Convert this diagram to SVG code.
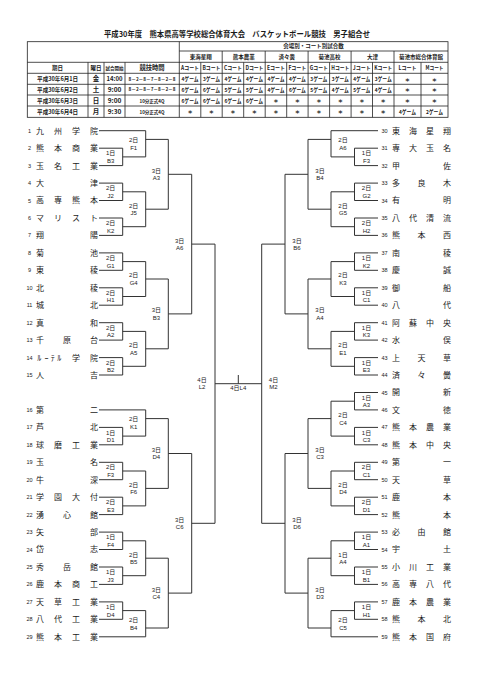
<svg xmlns="http://www.w3.org/2000/svg" width="481" height="680" viewBox="0 0 481 680">
<style>
text{fill:#1a1a1a;font-family:"Noto Sans CJK JP","Liberation Sans",sans-serif}
.ti{font-size:7.6px;font-weight:700}
.tb{font-size:5.5px;font-weight:700;text-anchor:middle}
.tt{font-size:6.5px;font-weight:700;text-anchor:middle;font-family:"Liberation Sans","Noto Sans CJK JP",sans-serif}
.nm{font-size:8px;text-anchor:middle}
.no{font-size:5.5px;text-anchor:middle;font-family:"Liberation Sans",sans-serif}
.lb text{font-size:6px;text-anchor:middle;font-family:"Liberation Sans","Noto Sans CJK JP",sans-serif}
.tl{fill:none;stroke:#222;stroke-width:0.8}
.ln{fill:none;stroke:#333;stroke-width:1}
</style>
<rect width="481" height="680" fill="#fff"/>
<g id="title">
<text class="ti" x="104" y="36.5" textLength="266" lengthAdjust="spacingAndGlyphs">平成30年度　熊本県高等学校総合体育大会　バスケットボール競技　男子組合せ</text>
</g>
<g id="table">
<rect class="tl" x="27.3" y="41.7" width="420.7" height="75.6" stroke-width="1.1"/>
<path class="tl" d="M179.3 51H448M27.3 62.3H448M27.3 73.3H448M27.3 84.3H448M27.3 95H448M27.3 106H448M179.3 41.7V117.3M88 62.3V117.3M104 62.3V117.3M125 62.3V117.3M222.2 51V117.3M265.2 51V117.3M308.1 51V117.3M351.1 51V117.3M394 51V117.3M200.8 62.3V117.3M243.7 62.3V117.3M286.7 62.3V117.3M329.6 62.3V117.3M372.5 62.3V117.3M421 62.3V117.3"/>
<g class="tb">
<text x="313.6" y="48.4">会場別・コート別試合数</text>
<text x="200.8" y="58.8">東海星翔</text>
<text x="243.7" y="58.8">熊本農業</text>
<text x="286.7" y="58.8">済々黌</text>
<text x="329.6" y="58.8">菊池高校</text>
<text x="372.5" y="58.8">大津</text>
<text x="421" y="58.8">菊池市総合体育館</text>
<text x="57.6" y="70">期日</text>
<text x="96" y="70">曜日</text>
<text x="114.5" y="69.6" style="font-size:4.5px">試合開始</text>
<text x="152" y="70.2" style="font-size:6.3px">競技時間</text>
<text x="190.05" y="70" textLength="18" lengthAdjust="spacingAndGlyphs">Aコート</text>
<text x="211.5" y="70" textLength="18" lengthAdjust="spacingAndGlyphs">Bコート</text>
<text x="232.95" y="70" textLength="18" lengthAdjust="spacingAndGlyphs">Cコート</text>
<text x="254.45" y="70" textLength="18" lengthAdjust="spacingAndGlyphs">Dコート</text>
<text x="275.95" y="70" textLength="18" lengthAdjust="spacingAndGlyphs">Eコート</text>
<text x="297.4" y="70" textLength="18" lengthAdjust="spacingAndGlyphs">Fコート</text>
<text x="318.85" y="70" textLength="18" lengthAdjust="spacingAndGlyphs">Gコート</text>
<text x="340.35" y="70" textLength="18" lengthAdjust="spacingAndGlyphs">Hコート</text>
<text x="361.8" y="70" textLength="18" lengthAdjust="spacingAndGlyphs">Jコート</text>
<text x="383.25" y="70" textLength="18" lengthAdjust="spacingAndGlyphs">Kコート</text>
<text x="407.5" y="70" textLength="18" lengthAdjust="spacingAndGlyphs">Lコート</text>
<text x="434.5" y="70" textLength="18" lengthAdjust="spacingAndGlyphs">Mコート</text>
<text x="57.6" y="81" textLength="41" lengthAdjust="spacingAndGlyphs">平成30年6月1日</text>
<text x="57.6" y="91.9" textLength="41" lengthAdjust="spacingAndGlyphs">平成30年6月2日</text>
<text x="57.6" y="102.7" textLength="41" lengthAdjust="spacingAndGlyphs">平成30年6月3日</text>
<text x="57.6" y="113.9" textLength="41" lengthAdjust="spacingAndGlyphs">平成30年6月4日</text>
<text x="96" y="81.2" style="font-size:6.5px">金</text>
<text x="96" y="92.1" style="font-size:6.5px">土</text>
<text x="96" y="102.9" style="font-size:6.5px">日</text>
<text x="96" y="114.1" style="font-size:6.5px">月</text>
<text x="152" y="80.5" style="font-size:4.5px" textLength="47" lengthAdjust="spacingAndGlyphs">8－2－8－7－8－2－8</text>
<text x="152" y="91.4" style="font-size:4.5px" textLength="47" lengthAdjust="spacingAndGlyphs">8－2－8－7－8－2－8</text>
<text x="152" y="102.6" style="font-size:5px" textLength="25" lengthAdjust="spacingAndGlyphs">10分正式4Q</text>
<text x="152" y="113.8" style="font-size:5px" textLength="25" lengthAdjust="spacingAndGlyphs">10分正式4Q</text>
</g>
<g class="tt">
<text x="114.5" y="81.3" textLength="16" lengthAdjust="spacingAndGlyphs">14:00</text>
<text x="114.5" y="92.2">9:00</text>
<text x="114.5" y="103">9:00</text>
<text x="114.5" y="114.2">9:30</text>
</g>
<g class="tb" style="font-size:5.3px">
<text x="190.05" y="81" textLength="17" lengthAdjust="spacingAndGlyphs">4ゲーム</text>
<text x="211.5" y="81" textLength="17" lengthAdjust="spacingAndGlyphs">3ゲーム</text>
<text x="232.95" y="81" textLength="17" lengthAdjust="spacingAndGlyphs">4ゲーム</text>
<text x="254.45" y="81" textLength="17" lengthAdjust="spacingAndGlyphs">4ゲーム</text>
<text x="275.95" y="81" textLength="17" lengthAdjust="spacingAndGlyphs">4ゲーム</text>
<text x="297.4" y="81" textLength="17" lengthAdjust="spacingAndGlyphs">4ゲーム</text>
<text x="318.85" y="81" textLength="17" lengthAdjust="spacingAndGlyphs">3ゲーム</text>
<text x="340.35" y="81" textLength="17" lengthAdjust="spacingAndGlyphs">3ゲーム</text>
<text x="361.8" y="81" textLength="17" lengthAdjust="spacingAndGlyphs">4ゲーム</text>
<text x="383.25" y="81" textLength="17" lengthAdjust="spacingAndGlyphs">3ゲーム</text>
<text x="407.5" y="81.5">＊</text>
<text x="434.5" y="81.5">＊</text>
<text x="190.05" y="91.9" textLength="17" lengthAdjust="spacingAndGlyphs">6ゲーム</text>
<text x="211.5" y="91.9" textLength="17" lengthAdjust="spacingAndGlyphs">6ゲーム</text>
<text x="232.95" y="91.9" textLength="17" lengthAdjust="spacingAndGlyphs">5ゲーム</text>
<text x="254.45" y="91.9" textLength="17" lengthAdjust="spacingAndGlyphs">5ゲーム</text>
<text x="275.95" y="91.9" textLength="17" lengthAdjust="spacingAndGlyphs">4ゲーム</text>
<text x="297.4" y="91.9" textLength="17" lengthAdjust="spacingAndGlyphs">6ゲーム</text>
<text x="318.85" y="91.9" textLength="17" lengthAdjust="spacingAndGlyphs">5ゲーム</text>
<text x="340.35" y="91.9" textLength="17" lengthAdjust="spacingAndGlyphs">4ゲーム</text>
<text x="361.8" y="91.9" textLength="17" lengthAdjust="spacingAndGlyphs">5ゲーム</text>
<text x="383.25" y="91.9" textLength="17" lengthAdjust="spacingAndGlyphs">4ゲーム</text>
<text x="407.5" y="92.4">＊</text>
<text x="434.5" y="92.4">＊</text>
<text x="190.05" y="102.7" textLength="17" lengthAdjust="spacingAndGlyphs">6ゲーム</text>
<text x="211.5" y="102.7" textLength="17" lengthAdjust="spacingAndGlyphs">6ゲーム</text>
<text x="232.95" y="102.7" textLength="17" lengthAdjust="spacingAndGlyphs">6ゲーム</text>
<text x="254.45" y="102.7" textLength="17" lengthAdjust="spacingAndGlyphs">6ゲーム</text>
<text x="275.95" y="103.2">＊</text>
<text x="297.4" y="103.2">＊</text>
<text x="318.85" y="103.2">＊</text>
<text x="340.35" y="103.2">＊</text>
<text x="361.8" y="103.2">＊</text>
<text x="383.25" y="103.2">＊</text>
<text x="407.5" y="103.2">＊</text>
<text x="434.5" y="103.2">＊</text>
<text x="190.05" y="114.4">＊</text>
<text x="211.5" y="114.4">＊</text>
<text x="232.95" y="114.4">＊</text>
<text x="254.45" y="114.4">＊</text>
<text x="275.95" y="114.4">＊</text>
<text x="297.4" y="114.4">＊</text>
<text x="318.85" y="114.4">＊</text>
<text x="340.35" y="114.4">＊</text>
<text x="361.8" y="114.4">＊</text>
<text x="383.25" y="114.4">＊</text>
<text x="407.5" y="113.9" textLength="17" lengthAdjust="spacingAndGlyphs">4ゲーム</text>
<text x="434.5" y="113.9" textLength="17" lengthAdjust="spacingAndGlyphs">2ゲーム</text>
</g>
</g>
<g id="connectors" class="ln">
<path d="M99 130.7H145.7M99 148.2H122.7V165.6H99M122.7 156.9H145.7M145.7 130.7V156.9M145.7 139.4H168.3M99 183.1H122.7V200.5H99M122.7 191.8H145.7M99 218H122.7V235.4H99M122.7 226.7H145.7M145.7 191.8V226.7M145.7 209.2H168.3M168.3 139.4V209.2M168.3 174.3H191.7"/>
<path d="M99 252.9H122.7V270.3H99M122.7 261.6H145.7M99 287.8H122.7V305.2H99M122.7 296.5H145.7M145.7 261.6V296.5M145.7 279H168.3M99 322.7H122.7V340.1H99M122.7 331.4H145.7M99 357.6H122.7V375H99M122.7 366.3H145.7M145.7 331.4V366.3M145.7 348.8H168.3M168.3 279V348.8M168.3 313.9H191.7M191.7 174.3V313.9M191.7 244.1H215"/>
<path d="M99 409.9H145.7M99 427.4H122.7V444.8H99M122.7 436.1H145.7M145.7 409.9V436.1M145.7 418.6H168.3M99 462.3H122.7V479.7H99M122.7 471H145.7M99 497.2H122.7V514.6H99M122.7 505.9H145.7M145.7 471V505.9M145.7 488.4H168.3M168.3 418.6V488.4M168.3 453.5H191.7"/>
<path d="M99 532.1H122.7V549.5H99M122.7 540.8H145.7M99 567H122.7V584.4H99M122.7 575.7H145.7M145.7 540.8V575.7M145.7 558.2H168.3M99 601.9H122.7V619.3H99M122.7 610.6H145.7M99 636.8H145.7M145.7 610.6V636.8M145.7 628H168.3M168.3 558.2V628M168.3 593.1H191.7M191.7 453.5V593.1M191.7 523.3H215"/>
<path d="M215 244.1V523.3M215 383.7H261.7M238.3 375V383.7M261.7 244.1V523.3"/>
<path d="M378 130.7H331M378 148.2H354.5V165.6H378M354.5 156.9H331M331 130.7V156.9M331 139.4H308M378 183.1H354.5V200.5H378M354.5 191.8H331M378 218H354.5V235.4H378M354.5 226.7H331M331 191.8V226.7M331 209.2H308M308 139.4V209.2M308 174.3H285"/>
<path d="M378 252.9H354.5V270.3H378M354.5 261.6H331M378 287.8H354.5V305.2H378M354.5 296.5H331M331 261.6V296.5M331 279H308M378 322.7H354.5V340.1H378M354.5 331.4H331M378 357.6H354.5V375H378M354.5 366.3H331M331 331.4V366.3M331 348.8H308M308 279V348.8M308 313.9H285M285 174.3V313.9M285 244.1H261.7"/>
<path d="M378 392.5H354.5V409.9H378M354.5 401.2H331M378 427.4H354.5V444.8H378M354.5 436.1H331M331 401.2V436.1M331 418.6H308M378 462.3H354.5V479.7H378M354.5 471H331M378 497.2H354.5V514.6H378M354.5 505.9H331M331 471V505.9M331 488.4H308M308 418.6V488.4M308 453.5H285"/>
<path d="M378 532.1H354.5V549.5H378M354.5 540.8H331M378 567H354.5V584.4H378M354.5 575.7H331M331 540.8V575.7M331 558.2H308M378 601.9H354.5V619.3H378M354.5 610.6H331M378 636.8H331M331 610.6V636.8M331 628H308M308 558.2V628M308 593.1H285M285 453.5V593.1M285 523.3H261.7"/>
</g>
<g id="teams-left">
<g id="team-1"><text class="no" x="29.5" y="132.7">1</text><text class="nm" x="40 58 76 94" y="133.6">九州学院</text></g>
<g id="team-2"><text class="no" x="29.5" y="150.2">2</text><text class="nm" x="40 58 76 94" y="151.1">熊本商業</text></g>
<g id="team-3"><text class="no" x="29.5" y="167.6">3</text><text class="nm" x="40 58 76 94" y="168.5">玉名工業</text></g>
<g id="team-4"><text class="no" x="29.5" y="185.1">4</text><text class="nm" x="40 94" y="186">大津</text></g>
<g id="team-5"><text class="no" x="29.5" y="202.5">5</text><text class="nm" x="40 58 76 94" y="203.4">高専熊本</text></g>
<g id="team-6"><text class="no" x="29.5" y="220">6</text><text class="nm" x="40 58 76 94" y="220.9">マリスト</text></g>
<g id="team-7"><text class="no" x="29.5" y="237.4">7</text><text class="nm" x="40 94" y="238.3">翔陽</text></g>
<g id="team-8"><text class="no" x="29.5" y="254.9">8</text><text class="nm" x="40 94" y="255.8">菊池</text></g>
<g id="team-9"><text class="no" x="29.5" y="272.3">9</text><text class="nm" x="40 94" y="273.2">東稜</text></g>
<g id="team-10"><text class="no" x="29.5" y="289.8">10</text><text class="nm" x="40 94" y="290.7">北稜</text></g>
<g id="team-11"><text class="no" x="29.5" y="307.2">11</text><text class="nm" x="40 94" y="308.1">城北</text></g>
<g id="team-12"><text class="no" x="29.5" y="324.7">12</text><text class="nm" x="40 94" y="325.6">真和</text></g>
<g id="team-13"><text class="no" x="29.5" y="342.1">13</text><text class="nm" x="40 67 94" y="343">千原台</text></g>
<g id="team-14"><text class="no" x="29.5" y="359.6">14</text><text class="nm" x="39.3 46.5 52.7 59.3 76 94" y="360.5">ﾙｰﾃﾙ学院</text></g>
<g id="team-15"><text class="no" x="29.5" y="377">15</text><text class="nm" x="40 94" y="377.9">人吉</text></g>
<g id="team-16"><text class="no" x="29.5" y="411.9">16</text><text class="nm" x="40 94" y="412.8">第二</text></g>
<g id="team-17"><text class="no" x="29.5" y="429.4">17</text><text class="nm" x="40 94" y="430.3">芦北</text></g>
<g id="team-18"><text class="no" x="29.5" y="446.8">18</text><text class="nm" x="40 58 76 94" y="447.7">球磨工業</text></g>
<g id="team-19"><text class="no" x="29.5" y="464.3">19</text><text class="nm" x="40 94" y="465.2">玉名</text></g>
<g id="team-20"><text class="no" x="29.5" y="481.7">20</text><text class="nm" x="40 94" y="482.6">牛深</text></g>
<g id="team-21"><text class="no" x="29.5" y="499.2">21</text><text class="nm" x="40 58 76 94" y="500.1">学園大付</text></g>
<g id="team-22"><text class="no" x="29.5" y="516.6">22</text><text class="nm" x="40 67 94" y="517.5">湧心館</text></g>
<g id="team-23"><text class="no" x="29.5" y="534.1">23</text><text class="nm" x="40 94" y="535">矢部</text></g>
<g id="team-24"><text class="no" x="29.5" y="551.5">24</text><text class="nm" x="40 94" y="552.4">岱志</text></g>
<g id="team-25"><text class="no" x="29.5" y="569">25</text><text class="nm" x="40 67 94" y="569.9">秀岳館</text></g>
<g id="team-26"><text class="no" x="29.5" y="586.4">26</text><text class="nm" x="40 58 76 94" y="587.3">鹿本商工</text></g>
<g id="team-27"><text class="no" x="29.5" y="603.9">27</text><text class="nm" x="40 58 76 94" y="604.8">天草工業</text></g>
<g id="team-28"><text class="no" x="29.5" y="621.3">28</text><text class="nm" x="40 58 76 94" y="622.2">八代工業</text></g>
<g id="team-29"><text class="no" x="29.5" y="638.8">29</text><text class="nm" x="40 58 76 94" y="639.7">熊本工業</text></g>
</g>
<g id="teams-right">
<g id="team-30"><text class="no" x="384.5" y="132.7">30</text><text class="nm" x="396 413 430 447" y="133.6">東海星翔</text></g>
<g id="team-31"><text class="no" x="384.5" y="150.2">31</text><text class="nm" x="396 413 430 447" y="151.1">専大玉名</text></g>
<g id="team-32"><text class="no" x="384.5" y="167.6">32</text><text class="nm" x="396 447" y="168.5">甲佐</text></g>
<g id="team-33"><text class="no" x="384.5" y="185.1">33</text><text class="nm" x="396 421.5 447" y="186">多良木</text></g>
<g id="team-34"><text class="no" x="384.5" y="202.5">34</text><text class="nm" x="396 447" y="203.4">有明</text></g>
<g id="team-35"><text class="no" x="384.5" y="220">35</text><text class="nm" x="396 413 430 447" y="220.9">八代清流</text></g>
<g id="team-36"><text class="no" x="384.5" y="237.4">36</text><text class="nm" x="396 421.5 447" y="238.3">熊本西</text></g>
<g id="team-37"><text class="no" x="384.5" y="254.9">37</text><text class="nm" x="396 447" y="255.8">南稜</text></g>
<g id="team-38"><text class="no" x="384.5" y="272.3">38</text><text class="nm" x="396 447" y="273.2">慶誠</text></g>
<g id="team-39"><text class="no" x="384.5" y="289.8">39</text><text class="nm" x="396 447" y="290.7">御船</text></g>
<g id="team-40"><text class="no" x="384.5" y="307.2">40</text><text class="nm" x="396 447" y="308.1">八代</text></g>
<g id="team-41"><text class="no" x="384.5" y="324.7">41</text><text class="nm" x="396 413 430 447" y="325.6">阿蘇中央</text></g>
<g id="team-42"><text class="no" x="384.5" y="342.1">42</text><text class="nm" x="396 447" y="343">水俣</text></g>
<g id="team-43"><text class="no" x="384.5" y="359.6">43</text><text class="nm" x="396 421.5 447" y="360.5">上天草</text></g>
<g id="team-44"><text class="no" x="384.5" y="377">44</text><text class="nm" x="396 421.5 447" y="377.9">済々黌</text></g>
<g id="team-45"><text class="no" x="384.5" y="394.5">45</text><text class="nm" x="396 447" y="395.4">開新</text></g>
<g id="team-46"><text class="no" x="384.5" y="411.9">46</text><text class="nm" x="396 447" y="412.8">文徳</text></g>
<g id="team-47"><text class="no" x="384.5" y="429.4">47</text><text class="nm" x="396 413 430 447" y="430.3">熊本農業</text></g>
<g id="team-48"><text class="no" x="384.5" y="446.8">48</text><text class="nm" x="396 413 430 447" y="447.7">熊本中央</text></g>
<g id="team-49"><text class="no" x="384.5" y="464.3">49</text><text class="nm" x="396 447" y="465.2">第一</text></g>
<g id="team-50"><text class="no" x="384.5" y="481.7">50</text><text class="nm" x="396 447" y="482.6">天草</text></g>
<g id="team-51"><text class="no" x="384.5" y="499.2">51</text><text class="nm" x="396 447" y="500.1">鹿本</text></g>
<g id="team-52"><text class="no" x="384.5" y="516.6">52</text><text class="nm" x="396 447" y="517.5">熊本</text></g>
<g id="team-53"><text class="no" x="384.5" y="534.1">53</text><text class="nm" x="396 421.5 447" y="535">必由館</text></g>
<g id="team-54"><text class="no" x="384.5" y="551.5">54</text><text class="nm" x="396 447" y="552.4">宇土</text></g>
<g id="team-55"><text class="no" x="384.5" y="569">55</text><text class="nm" x="396 413 430 447" y="569.9">小川工業</text></g>
<g id="team-56"><text class="no" x="384.5" y="586.4">56</text><text class="nm" x="396 413 430 447" y="587.3">高専八代</text></g>
<g id="team-57"><text class="no" x="384.5" y="603.9">57</text><text class="nm" x="396 413 430 447" y="604.8">鹿本農業</text></g>
<g id="team-58"><text class="no" x="384.5" y="621.3">58</text><text class="nm" x="396 421.5 447" y="622.2">熊本北</text></g>
<g id="team-59"><text class="no" x="384.5" y="638.8">59</text><text class="nm" x="396 413 430 447" y="639.7">熊本国府</text></g>
</g>
<g id="matches-left" class="lb">
<g id="mL-B3"><text x="110.7" y="155.3">1日</text><text x="110.7" y="162.8">B3</text></g>
<g id="mL-F1"><text x="133.7" y="142.2">2日</text><text x="133.7" y="149.7">F1</text></g>
<g id="mL-J2"><text x="110.7" y="190.2">2日</text><text x="110.7" y="197.7">J2</text></g>
<g id="mL-K2"><text x="110.7" y="225.1">2日</text><text x="110.7" y="232.6">K2</text></g>
<g id="mL-J5"><text x="133.7" y="207.6">2日</text><text x="133.7" y="215.1">J5</text></g>
<g id="mL-A3"><text x="156.3" y="172.7">3日</text><text x="156.3" y="180.2">A3</text></g>
<g id="mL-G1"><text x="110.7" y="260">2日</text><text x="110.7" y="267.5">G1</text></g>
<g id="mL-H1"><text x="110.7" y="294.9">2日</text><text x="110.7" y="302.4">H1</text></g>
<g id="mL-G4"><text x="133.7" y="277.4">2日</text><text x="133.7" y="284.9">G4</text></g>
<g id="mL-A2"><text x="110.7" y="329.8">2日</text><text x="110.7" y="337.3">A2</text></g>
<g id="mL-B2"><text x="110.7" y="364.7">2日</text><text x="110.7" y="372.2">B2</text></g>
<g id="mL-A5"><text x="133.7" y="347.2">2日</text><text x="133.7" y="354.7">A5</text></g>
<g id="mL-B3b"><text x="156.3" y="312.3">3日</text><text x="156.3" y="319.8">B3</text></g>
<g id="mL-A6"><text x="179.7" y="242.5">3日</text><text x="179.7" y="250">A6</text></g>
<g id="mL-D1"><text x="110.7" y="434.5">1日</text><text x="110.7" y="442">D1</text></g>
<g id="mL-K1"><text x="133.7" y="421.4">2日</text><text x="133.7" y="428.9">K1</text></g>
<g id="mL-F3"><text x="110.7" y="469.4">2日</text><text x="110.7" y="476.9">F3</text></g>
<g id="mL-E3"><text x="110.7" y="504.3">2日</text><text x="110.7" y="511.8">E3</text></g>
<g id="mL-F6"><text x="133.7" y="486.8">2日</text><text x="133.7" y="494.3">F6</text></g>
<g id="mL-D4"><text x="156.3" y="451.9">3日</text><text x="156.3" y="459.4">D4</text></g>
<g id="mL-F4"><text x="110.7" y="539.2">1日</text><text x="110.7" y="546.7">F4</text></g>
<g id="mL-J3"><text x="110.7" y="574.1">1日</text><text x="110.7" y="581.6">J3</text></g>
<g id="mL-B5"><text x="133.7" y="556.6">2日</text><text x="133.7" y="564.1">B5</text></g>
<g id="mL-D4b"><text x="110.7" y="609">1日</text><text x="110.7" y="616.5">D4</text></g>
<g id="mL-B4"><text x="133.7" y="622.1">2日</text><text x="133.7" y="629.6">B4</text></g>
<g id="mL-C4"><text x="156.3" y="591.5">3日</text><text x="156.3" y="599">C4</text></g>
<g id="mL-C6"><text x="179.7" y="521.7">3日</text><text x="179.7" y="529.2">C6</text></g>
<g id="mL-L2"><text x="202" y="381.6">4日</text><text x="202" y="389.3">L2</text></g>
<g id="m-L4"><text x="238.3" y="390.4">4日L4</text></g>
</g>
<g id="matches-right" class="lb">
<g id="mR-F3"><text x="366.5" y="155.3">1日</text><text x="366.5" y="162.8">F3</text></g>
<g id="mR-A6"><text x="343" y="142.2">2日</text><text x="343" y="149.7">A6</text></g>
<g id="mR-G2"><text x="366.5" y="190.2">2日</text><text x="366.5" y="197.7">G2</text></g>
<g id="mR-H2"><text x="366.5" y="225.1">2日</text><text x="366.5" y="232.6">H2</text></g>
<g id="mR-G5"><text x="343" y="207.6">2日</text><text x="343" y="215.1">G5</text></g>
<g id="mR-B4"><text x="320" y="172.7">3日</text><text x="320" y="180.2">B4</text></g>
<g id="mR-K2"><text x="366.5" y="260">1日</text><text x="366.5" y="267.5">K2</text></g>
<g id="mR-C1"><text x="366.5" y="294.9">1日</text><text x="366.5" y="302.4">C1</text></g>
<g id="mR-K3"><text x="343" y="277.4">2日</text><text x="343" y="284.9">K3</text></g>
<g id="mR-K3b"><text x="366.5" y="329.8">1日</text><text x="366.5" y="337.3">K3</text></g>
<g id="mR-E3"><text x="366.5" y="364.7">1日</text><text x="366.5" y="372.2">E3</text></g>
<g id="mR-E1"><text x="343" y="347.2">2日</text><text x="343" y="354.7">E1</text></g>
<g id="mR-A4"><text x="320" y="312.3">3日</text><text x="320" y="319.8">A4</text></g>
<g id="mR-B6"><text x="297" y="242.5">3日</text><text x="297" y="250">B6</text></g>
<g id="mR-A3"><text x="366.5" y="399.6">1日</text><text x="366.5" y="407.1">A3</text></g>
<g id="mR-C3"><text x="366.5" y="434.5">1日</text><text x="366.5" y="442">C3</text></g>
<g id="mR-C4"><text x="343" y="417">2日</text><text x="343" y="424.5">C4</text></g>
<g id="mR-C1b"><text x="366.5" y="469.4">2日</text><text x="366.5" y="476.9">C1</text></g>
<g id="mR-D1"><text x="366.5" y="504.3">2日</text><text x="366.5" y="511.8">D1</text></g>
<g id="mR-D4"><text x="343" y="486.8">2日</text><text x="343" y="494.3">D4</text></g>
<g id="mR-C3b"><text x="320" y="451.9">3日</text><text x="320" y="459.4">C3</text></g>
<g id="mR-A1"><text x="366.5" y="539.2">1日</text><text x="366.5" y="546.7">A1</text></g>
<g id="mR-B1"><text x="366.5" y="574.1">1日</text><text x="366.5" y="581.6">B1</text></g>
<g id="mR-A4b"><text x="343" y="556.6">1日</text><text x="343" y="564.1">A4</text></g>
<g id="mR-H1"><text x="366.5" y="609">1日</text><text x="366.5" y="616.5">H1</text></g>
<g id="mR-C5"><text x="343" y="622.1">2日</text><text x="343" y="629.6">C5</text></g>
<g id="mR-D3"><text x="320" y="591.5">3日</text><text x="320" y="599">D3</text></g>
<g id="mR-D6"><text x="297" y="521.7">3日</text><text x="297" y="529.2">D6</text></g>
<g id="mR-M2"><text x="273.5" y="381.6">4日</text><text x="273.5" y="389.3">M2</text></g>
</g>
</svg>
